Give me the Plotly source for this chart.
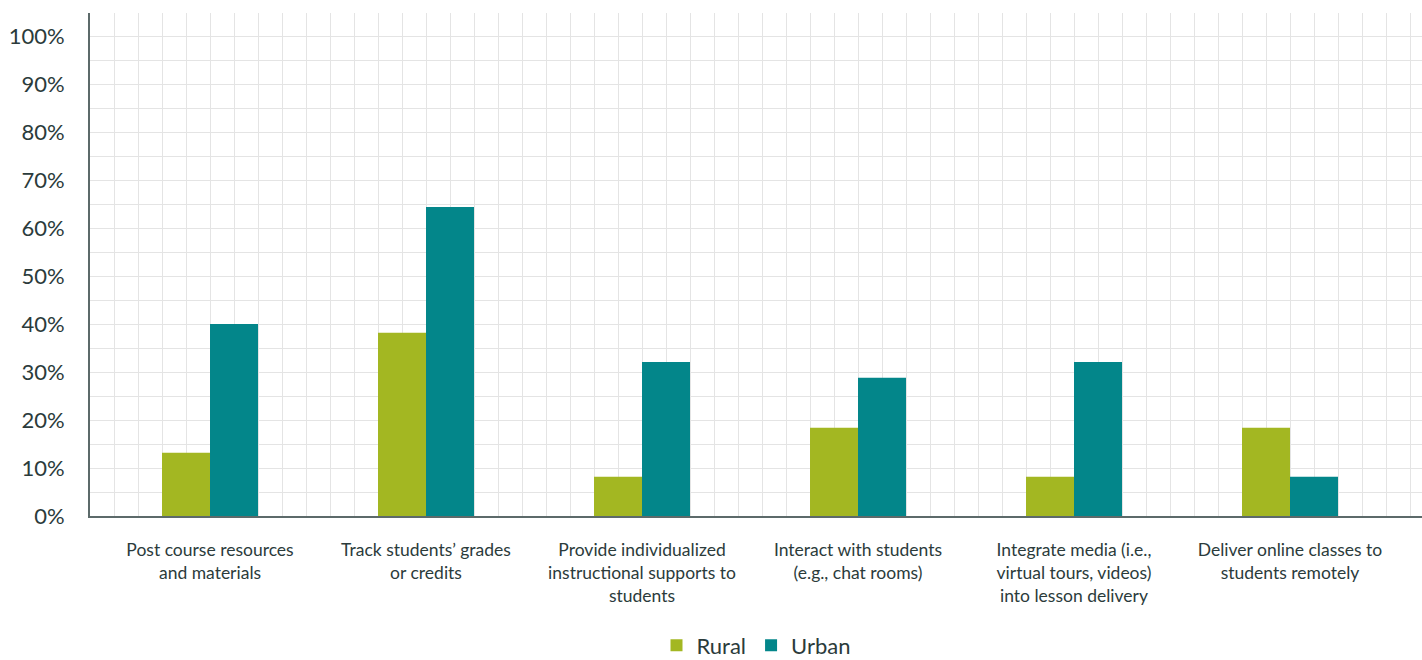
import plotly.graph_objects as go

categories = [
    "Post course resources<br>and materials",
    "Track students’ grades<br>or credits",
    "Provide individualized<br>instructional supports to<br>students",
    "Interact with students<br>(e.g., chat rooms)",
    "Integrate media (i.e.,<br>virtual tours, videos)<br>into lesson delivery",
    "Deliver online classes to<br>students remotely",
]
rural = [13.2, 38.2, 8.2, 18.4, 8.2, 18.4]
urban = [40.0, 64.4, 32.1, 28.8, 32.1, 8.2]

RURAL_COLOR = "#A3B722"
URBAN_COLOR = "#03868A"
TEXT_COLOR = "#2B3B3B"
GRID_COLOR = "#E4E4E4"
FONT = "Lato"

fig = go.Figure()
fig.add_trace(go.Bar(name="Rural", x=categories, y=rural, marker_color=RURAL_COLOR,
                     marker_line_width=0))
fig.add_trace(go.Bar(name="Urban", x=categories, y=urban, marker_color=URBAN_COLOR,
                     marker_line_width=0))
# helper trace for the background square grid axis
fig.add_trace(go.Scatter(x=[None], y=[None], xaxis="x2", showlegend=False,
                         hoverinfo="skip", mode="markers"))

fig.update_layout(
    width=1422, height=660,
    margin=dict(l=90, r=0, t=13, b=144, autoexpand=False),
    paper_bgcolor="white", plot_bgcolor="white",
    barmode="group", bargap=0.5556, bargroupgap=0,
    font=dict(family=FONT, color=TEXT_COLOR),
    xaxis=dict(
        type="category", range=[-0.5556, 5.6111], automargin=False,
        showgrid=False, showline=True, linecolor="#5C6A6A", linewidth=2,
        ticks="", tickfont=dict(size=17.5, color=TEXT_COLOR, family=FONT),
        ticklabelstandoff=17, zeroline=False,
    ),
    xaxis2=dict(
        overlaying="x", range=[0, 55.5], dtick=1, showgrid=True,
        gridcolor=GRID_COLOR, gridwidth=1, showticklabels=False,
        showline=False, zeroline=False, ticks="", automargin=False,
    ),
    yaxis=dict(
        range=[0, 104.8], dtick=10, ticksuffix="%", showgrid=True,
        gridcolor=GRID_COLOR, gridwidth=1, automargin=False,
        minor=dict(dtick=5, showgrid=True, gridcolor=GRID_COLOR, gridwidth=1),
        showline=True, linecolor="#5C6A6A", linewidth=2, zeroline=False,
        ticks="", tickfont=dict(size=22, color=TEXT_COLOR, family=FONT),
        ticklabelstandoff=19,
    ),
    legend=dict(
        orientation="h", x=0.5, xanchor="center",
        yref="container", y=0.022, yanchor="middle",
        font=dict(size=22, color=TEXT_COLOR, family=FONT),
    ),
    showlegend=True,
)

fig.write_html("out.html")
